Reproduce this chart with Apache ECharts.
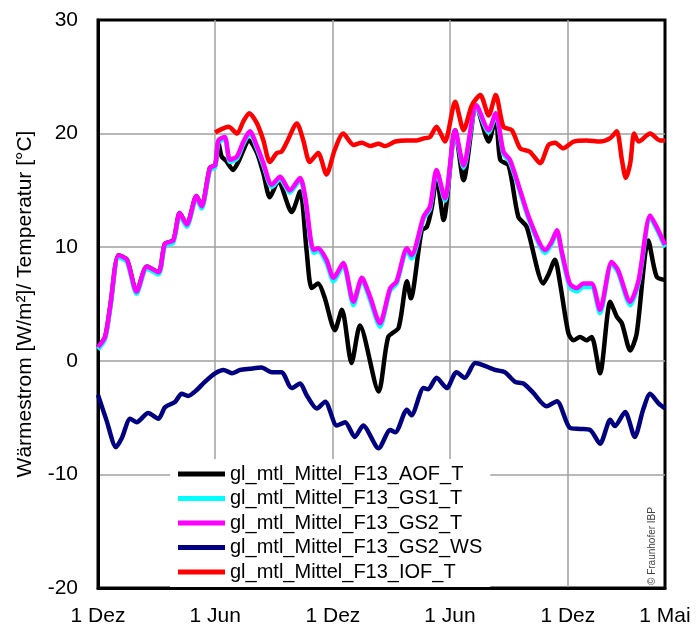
<!DOCTYPE html>
<html>
<head>
<meta charset="utf-8">
<script src="https://cdn.jsdelivr.net/npm/echarts@6/dist/echarts.min.js"></script>
<style>
  html, body { margin: 0; padding: 0; background: #fff; }
  #chart { width: 697px; height: 631px; }
</style>
</head>
<body>
<div id="chart"></div>
<script>
// Day offsets (from 1 Dez) of the labelled axis ticks and their labels
const tickDays = [0, 182, 365, 547, 730, 881];
const tickLabels = ['1 Dez', '1 Jun', '1 Dez', '1 Jun', '1 Dez', '1 Mai'];

// Series: [day offset, value]
const aofT = [[0,1.2],[11,2.1],[19,4.8],[32,9.3],[45,8.9],[60,6.1],[76,8.3],[94,7.8],[104,10.3],[117,10.6],[127,13.0],[138,12.0],[153,14.5],[161,13.6],[174,17.0],[182,17.2],[187,19.2],[192,18.0],[199,17.6],[210,16.8],[218,17.5],[235,19.4],[247,18.3],[257,16.5],[267,14.4],[280,15.8],[301,13.1],[314,14.9],[324,9.75],[332,6.4],[342,6.8],[352,5.6],[368,2.7],[379,4.5],[394,-0.2],[407,3.1],[436,-2.7],[451,2.1],[467,2.9],[480,7.0],[486,5.5],[503,11.5],[511,11.8],[519,13.6],[526,16.2],[537,12.4],[555,20.3],[568,15.9],[588,22.4],[607,19.3],[618,21.5],[625,17.7],[638,17.2],[653,12.7],[666,11.8],[692,6.8],[700,7.6],[710,8.9],[718,6.8],[731,2.4],[739,1.8],[749,2.1],[759,1.8],[767,2.1],[780,-1.1],[796,5.2],[806,3.9],[814,3.3],[827,0.9],[837,2.4],[855,10.6],[868,7.4],[881,7.1]];

const gs1T = [[0,1.0],[11,1.9],[19,4.6],[32,9.1],[45,8.7],[60,5.9],[76,8.1],[94,7.6],[104,10.1],[117,10.4],[127,12.8],[138,11.8],[153,14.3],[161,13.4],[174,16.8],[182,17.0],[187,19.2],[197,19.5],[205,17.5],[216,17.8],[226,19.1],[236,20.0],[247,18.7],[257,17.2],[270,15.3],[283,16.0],[298,14.8],[314,15.9],[322,14.2],[335,9.5],[342,9.7],[355,8.6],[366,7.0],[381,8.4],[397,4.9],[410,7.1],[423,5.3],[438,3.0],[454,6.2],[464,6.8],[480,9.7],[487,9.0],[506,12.5],[516,13.4],[526,16.6],[539,14.1],[555,20.1],[568,17.0],[588,22.3],[607,20.1],[618,21.6],[630,18.2],[640,17.5],[656,14.8],[671,12.2],[695,9.5],[705,10.3],[713,11.3],[721,9.3],[733,6.5],[744,6.1],[754,6.5],[767,6.5],[780,4.2],[798,8.5],[808,7.8],[827,4.9],[840,6.9],[858,12.6],[868,11.6],[881,10.0]];

const gs2T = [[0,1.2],[11,2.1],[19,4.8],[32,9.3],[45,8.9],[60,6.1],[76,8.3],[94,7.8],[104,10.3],[117,10.6],[127,13.0],[138,12.0],[153,14.5],[161,13.6],[174,17.0],[182,17.2],[187,19.4],[197,19.7],[205,17.7],[216,18.0],[226,19.3],[236,20.2],[247,18.9],[257,17.4],[270,15.5],[283,16.2],[298,15.0],[314,16.1],[322,14.4],[335,9.75],[342,9.9],[355,8.9],[366,7.3],[381,8.6],[397,5.2],[410,7.3],[423,5.6],[438,3.3],[454,6.4],[464,7.0],[480,9.9],[487,9.3],[506,12.7],[516,13.6],[526,16.8],[539,14.3],[555,20.3],[568,17.2],[588,22.5],[607,20.3],[618,21.8],[630,18.4],[640,17.7],[656,15.0],[671,12.4],[695,9.75],[705,10.5],[713,11.5],[721,9.5],[733,6.8],[744,6.4],[754,6.8],[767,6.8],[780,4.5],[798,8.7],[808,8.0],[827,5.2],[840,7.1],[858,12.8],[868,11.8],[881,10.2]];

const gs2WS = [[0,-3.0],[13,-5.2],[28,-7.6],[37,-6.8],[50,-5.1],[60,-5.4],[78,-4.6],[94,-5.1],[104,-4.1],[120,-3.6],[130,-2.9],[140,-3.1],[153,-2.6],[166,-1.85],[182,-1.1],[195,-0.8],[208,-1.1],[221,-0.8],[236,-0.7],[254,-0.6],[270,-1.0],[285,-1.0],[301,-2.4],[314,-2.0],[324,-3.0],[340,-4.2],[353,-3.6],[371,-5.7],[384,-5.4],[399,-6.7],[412,-5.7],[436,-7.7],[454,-6.1],[462,-6.3],[480,-4.3],[487,-4.8],[506,-2.4],[513,-2.5],[526,-1.5],[542,-2.4],[557,-1.0],[570,-1.5],[586,-0.2],[599,-0.4],[617,-0.8],[632,-1.0],[648,-1.85],[661,-2.0],[676,-2.8],[697,-4.0],[713,-3.55],[733,-5.9],[749,-6.0],[765,-6.1],[780,-7.3],[796,-5.2],[803,-5.75],[819,-4.5],[834,-6.7],[847,-4.3],[858,-2.9],[871,-3.75],[881,-4.2]];

const iofT = [[182,20.1],[192,20.4],[203,20.6],[216,20.0],[226,21.1],[235,21.8],[247,20.9],[257,19.4],[267,17.5],[278,18.3],[285,18.4],[293,19.2],[309,20.9],[319,19.4],[329,17.5],[342,18.3],[355,16.4],[368,18.6],[381,20.0],[397,19.0],[410,19.2],[423,18.9],[436,19.1],[446,18.9],[462,19.3],[480,19.4],[495,19.4],[508,19.6],[516,19.7],[526,20.6],[539,19.3],[555,22.8],[568,20.3],[581,22.5],[594,23.4],[607,21.6],[618,23.4],[630,20.6],[643,20.3],[656,18.7],[671,18.4],[687,17.4],[700,19.0],[710,19.2],[723,18.7],[739,19.3],[759,19.4],[780,19.3],[796,19.6],[806,20.2],[814,17.7],[820,16.1],[827,17.4],[833,20.0],[840,19.3],[858,20.0],[873,19.4],[881,19.4]];

const seriesDefs = [
  { name: 'gl_mtl_Mittel_F13_AOF_T',  color: '#000000', data: aofT },
  { name: 'gl_mtl_Mittel_F13_GS1_T',  color: '#00FFFF', data: gs1T },
  { name: 'gl_mtl_Mittel_F13_GS2_T',  color: '#FF00FF', data: gs2T },
  { name: 'gl_mtl_Mittel_F13_GS2_WS', color: '#000080', data: gs2WS },
  { name: 'gl_mtl_Mittel_F13_IOF_T',  color: '#FF0000', data: iofT }
];

const FONT = '"Liberation Sans", Arial, sans-serif';
const chart = echarts.init(document.getElementById('chart'), null, { renderer: 'canvas' });

chart.setOption({
  animation: false,
  backgroundColor: '#ffffff',
  grid: {
    left: 98, right: 32, top: 20, bottom: 43,
    show: true, borderColor: '#000', borderWidth: 3,
    backgroundColor: '#fff'
  },
  xAxis: {
    type: 'value', min: 0, max: 881,
    axisLine: { show: true, onZero: false, lineStyle: { color: '#000', width: 3 } },
    axisTick: { show: false, customValues: tickDays },
    axisLabel: {
      customValues: tickDays,
      formatter: v => tickLabels[tickDays.indexOf(v)],
      color: '#000', fontFamily: FONT, fontSize: 21, margin: 18
    },
    splitLine: { show: true, showMinLine: false, showMaxLine: false, lineStyle: { color: '#a0a0a0', width: 1.5 } }
  },
  yAxis: {
    type: 'value', min: -20, max: 30, interval: 10,
    name: 'Wärmestrom [W/m²]/ Temperatur [°C]',
    nameLocation: 'middle', nameGap: 62,
    nameTextStyle: { color: '#000', fontFamily: FONT, fontSize: 21 },
    axisLine: { show: true, onZero: false, lineStyle: { color: '#000', width: 3 } },
    axisTick: { show: false },
    axisLabel: { color: '#000', fontFamily: FONT, fontSize: 21, margin: 20 },
    splitLine: { show: true, showMinLine: false, showMaxLine: false, lineStyle: { color: '#a0a0a0', width: 1.5 } }
  },
  legend: {
    orient: 'vertical', left: 170, top: 459,
    padding: [5, 8, 5, 8], itemGap: 4.5,
    itemWidth: 47, itemHeight: 5, icon: 'rect',
    backgroundColor: '#fff',
    textStyle: { color: '#000', fontFamily: FONT, fontSize: 20 },
    data: seriesDefs.map(s => s.name)
  },
  graphic: [{
    type: 'text', x: 647, y: 585, rotation: Math.PI / 2,
    style: { text: '© Fraunhofer IBP', fill: '#444', font: '10px ' + FONT }
  }],
  series: seriesDefs.map(s => ({
    name: s.name, type: 'line', data: s.data,
    showSymbol: false, smooth: 0.25,
    color: s.color,
    lineStyle: { color: s.color, width: 4.5 }
  }))
});
</script>
</body>
</html>
